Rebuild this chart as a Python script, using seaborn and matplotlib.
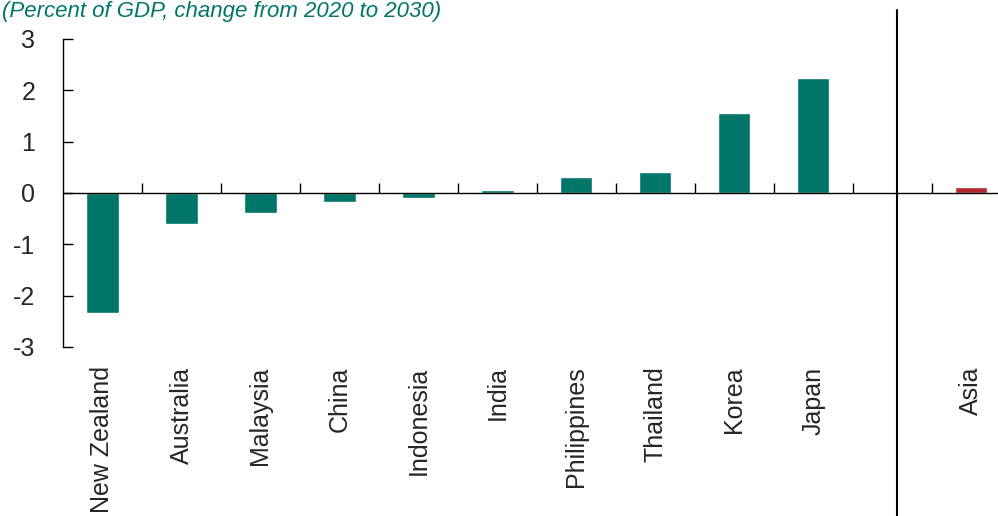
import pandas as pd
import seaborn as sns
import matplotlib.pyplot as plt

# change in share of GDP, 2020 -> 2030
countries = ['New Zealand', 'Australia', 'Malaysia', 'China', 'Indonesia',
             'India', 'Philippines', 'Thailand', 'Korea', 'Japan']
country_vals = [-2.34, -0.60, -0.38, -0.17, -0.10, 0.05, 0.31, 0.41, 1.56, 2.24]
region = ['Asia']
region_vals = [0.11]

teal = '#00766A'
red = '#B3282E'

df = pd.DataFrame({'cat': countries + region, 'val': country_vals + region_vals})
order = countries + [' '] + region
pal = {c: teal for c in countries}
pal.update({r: red for r in region})

sns.set_style('white')
plt.rcParams['font.family'] = ['Liberation Sans', 'DejaVu Sans']

fig = plt.figure(figsize=(9.98, 5.16), dpi=100)
ax = fig.add_axes([63 / 998, 1 - 347 / 516, 935 / 998, 308 / 516])

sns.barplot(data=df, x='cat', y='val', hue='cat', order=order,
            palette=pal, width=0.41, legend=False, ax=ax, saturation=1)

ax.set_xlim(-0.5, 11.34)
ax.set_ylim(-3, 3)
ax.set_xlabel('')
ax.set_ylabel('')

# zero line with category boundary ticks
ax.spines['bottom'].set_position(('data', 0))
ax.spines['top'].set_visible(False)
ax.spines['right'].set_visible(False)
for s in ['bottom', 'left']:
    ax.spines[s].set_color('black')
    ax.spines[s].set_linewidth(1.0)
ax.set_xticks([i + 0.5 for i in range(len(order) - 1)])
ax.set_xticklabels([])
ax.tick_params(axis='x', direction='in', length=7, width=1, color='black', bottom=True)

ax.set_yticks([-3, -2, -1, 0, 1, 2, 3])
ax.set_yticklabels(['-3', '-2', '-1', '0', '1', '2', '3'])
ax.tick_params(axis='y', direction='in', length=7, width=1, color='black', left=True,
               pad=20, labelsize=18)

# category names below the plot
sec = ax.secondary_xaxis(0)
sec.set_xticks(range(len(order)))
sec.set_xticklabels(order, rotation=90, fontsize=18)
sec.tick_params(length=0, pad=14)
sec.spines['bottom'].set_visible(False)

# divider between countries and region
ax.axvline(10.06, ymin=-0.55, ymax=1.094, color='black', lw=1.5, clip_on=False)

fig.text(0.002, 1 - 1 / 516, '(Percent of GDP, change from 2020 to 2030)',
         color=teal, style='italic', fontsize=16, ha='left', va='top')

fig.savefig('out.png', dpi=100)
